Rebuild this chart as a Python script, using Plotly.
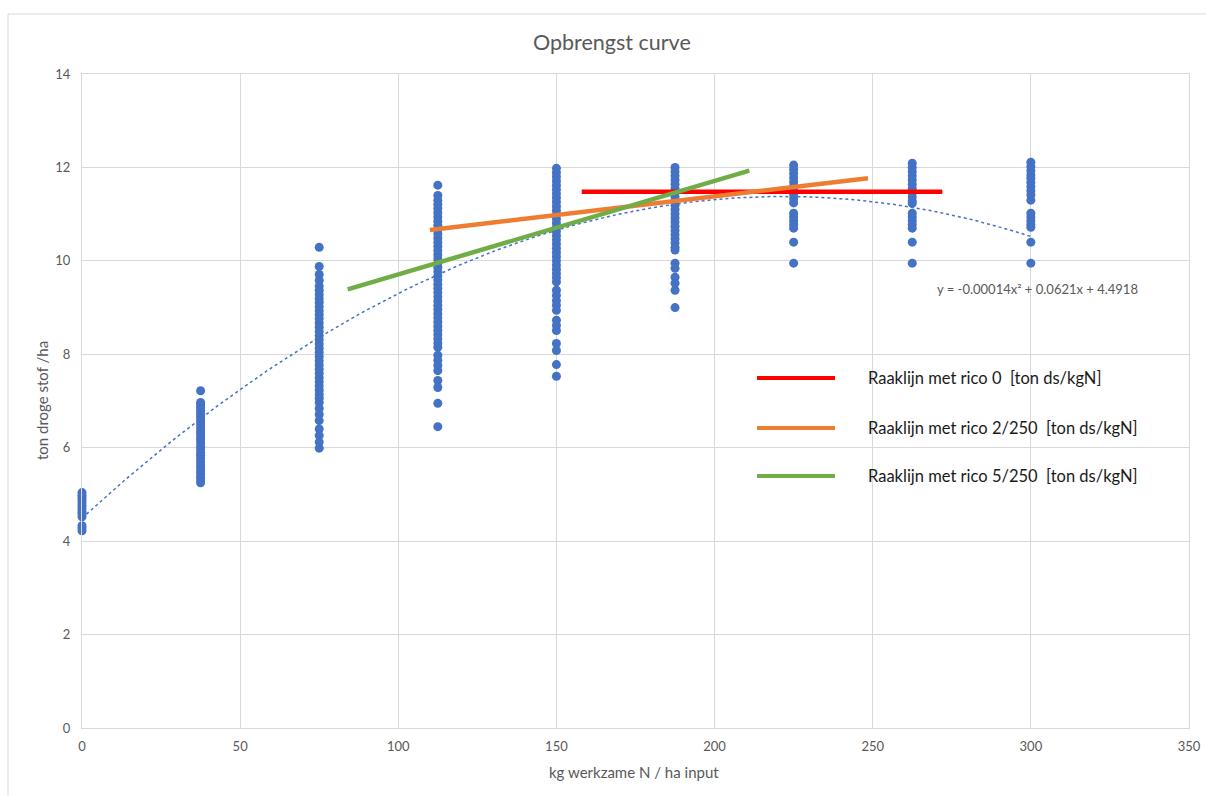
import numpy as np
import plotly.graph_objects as go

# N input levels (kg werkzame N / ha) and measured yields (ton droge stof / ha)
n_levels = [0, 37.5, 75, 112.5, 150, 187.5, 225, 262.5, 300]

yield_0 = [4.22, 4.28, 4.33, 4.52, 4.58, 4.63, 4.70, 4.76, 4.82, 4.88, 4.93, 4.98, 5.04]
yield_37 = [7.22, 6.97, 6.92, 6.86, 6.80, 6.74, 6.68, 6.62, 6.55, 6.49, 6.42, 6.36, 6.30,
            6.23, 6.17, 6.10, 6.03, 5.97, 5.90, 5.84, 5.77, 5.70, 5.63, 5.57, 5.50, 5.44,
            5.37, 5.31, 5.25]
yield_75 = [10.29, 9.88, 9.71, 9.58, 9.46, 9.37, 9.28, 9.19, 9.11, 9.02, 8.93, 8.85, 8.76,
            8.67, 8.58, 8.49, 8.40, 8.31, 8.22, 8.13, 8.04, 7.95, 7.86, 7.77, 7.68, 7.59,
            7.50, 7.41, 7.32, 7.23, 7.14, 7.06, 6.97, 6.84, 6.71, 6.58, 6.40, 6.26, 6.12, 5.99]
yield_112 = [11.62, 11.40, 11.30, 11.21, 11.12, 11.03, 10.94, 10.85, 10.76, 10.67, 10.58,
             10.49, 10.40, 10.31, 10.22, 10.13, 10.04, 9.95, 9.86, 9.77, 9.68, 9.59, 9.50,
             9.41, 9.32, 9.23, 9.14, 9.05, 8.96, 8.87, 8.78, 8.69, 8.60, 8.51, 8.42, 8.33,
             8.24, 8.15, 7.98, 7.87, 7.76, 7.65, 7.44, 7.29, 6.95, 6.45]
yield_150 = [11.98, 11.89, 11.80, 11.71, 11.62, 11.53, 11.44, 11.35, 11.26, 11.17, 11.08,
             10.99, 10.90, 10.81, 10.72, 10.63, 10.54, 10.45, 10.36, 10.27, 10.18, 10.09,
             10.00, 9.91, 9.82, 9.73, 9.64, 9.55, 9.37, 9.26, 9.15, 9.05, 8.94, 8.73, 8.62,
             8.51, 8.23, 8.08, 7.78, 7.53]
yield_187 = [12.00, 11.91, 11.82, 11.73, 11.64, 11.55, 11.46, 11.37, 11.28, 11.19, 11.10,
             11.01, 10.92, 10.83, 10.74, 10.65, 10.56, 10.47, 10.38, 10.29, 10.23, 9.95,
             9.84, 9.65, 9.52, 9.37, 9.00]
yield_225 = [12.05, 11.96, 11.87, 11.78, 11.69, 11.60, 11.51, 11.42, 11.33, 11.24, 11.02,
             10.94, 10.86, 10.78, 10.70, 10.40, 9.95]
yield_262 = [12.09, 12.00, 11.91, 11.82, 11.73, 11.64, 11.55, 11.46, 11.37, 11.28, 11.23,
             11.02, 10.94, 10.86, 10.78, 10.70, 10.40, 9.95]
yield_300 = [12.11, 12.02, 11.93, 11.84, 11.77, 11.68, 11.59, 11.50, 11.41, 11.30, 11.02,
             10.94, 10.86, 10.78, 10.72, 10.40, 9.95]

yields = [yield_0, yield_37, yield_75, yield_112, yield_150,
          yield_187, yield_225, yield_262, yield_300]

# Quadratic trendline coefficients (a*x^2 + b*x + c)
trend_coef = [-0.00014, 0.0621, 4.4918]
trend_label = "y = -0.00014x\u00b2 + 0.0621x + 4.4918"

# Tangent lines: name, colour, x range, starting y, slope
tangent_names = ["Raaklijn met rico 0  [ton ds/kgN]",
                 "Raaklijn met rico 2/250  [ton ds/kgN]",
                 "Raaklijn met rico 5/250  [ton ds/kgN]"]
tangent_colors = ["#FF0000", "#ED7D31", "#70AD47"]
tangent_x0 = [158, 110, 84]
tangent_x1 = [272, 248.5, 211]
tangent_y0 = [11.48, 10.66, 9.39]
tangent_slope = [0, 2 / 250, 5 / 250]

x_ticks = [0, 50, 100, 150, 200, 250, 300, 350]
y_ticks = [0, 2, 4, 6, 8, 10, 12, 14]

FONT = "Lato, Calibri, 'Liberation Sans', sans-serif"
GREY_TXT = "#595959"
GRID = "#D9D9D9"

fig = go.Figure()

xs, ys = [], []
for lvl, vals in zip(n_levels, yields):
    xs += [lvl] * len(vals)
    ys += vals
fig.add_trace(go.Scatter(x=xs, y=ys, mode="markers", cliponaxis=False,
                         marker=dict(color="#4472C4", size=9),
                         showlegend=False, hoverinfo="x+y"))

tx = np.linspace(0, 300, 121)
fig.add_trace(go.Scatter(x=tx, y=np.polyval(trend_coef, tx), mode="lines",
                         line=dict(color="#4472C4", width=1.5, dash="dot"),
                         showlegend=False))

for name, col, x0, x1, y0, s in zip(tangent_names, tangent_colors, tangent_x0,
                                    tangent_x1, tangent_y0, tangent_slope):
    fig.add_trace(go.Scatter(x=[x0, x1], y=[y0, y0 + s * (x1 - x0)], mode="lines",
                             line=dict(color=col, width=4.5), name=name,
                             showlegend=False))

# Plot area spans pixel x 82..1189, y 74..728
L, R, T, B = 82, 1189, 74, 728
W, H = R - L, B - T


def px(x):
    return (x - L) / W


def py(y):
    return (B - y) / H


shapes = [dict(type="rect", xref="paper", yref="paper",
               x0=px(8), x1=px(1212), y0=py(800), y1=py(14),
               line=dict(color=GRID, width=1), layer="below")]
annotations = []
legend_rows = [378, 428, 476]
for name, col, row in zip(tangent_names, tangent_colors, legend_rows):
    shapes.append(dict(type="line", xref="paper", yref="paper",
                       x0=px(757), x1=px(835), y0=py(row), y1=py(row),
                       line=dict(color=col, width=4)))
    annotations.append(dict(xref="paper", yref="paper", x=px(866), y=py(row),
                            xanchor="left", yanchor="middle", showarrow=False,
                            text=name, font=dict(family=FONT, size=16.5, color="#1a1a1a")))

annotations.append(dict(xref="paper", yref="paper", x=px(935), y=py(289),
                        xanchor="left", yanchor="middle", showarrow=False,
                        text=trend_label, font=dict(family=FONT, size=13, color=GREY_TXT)))
annotations.append(dict(xref="paper", yref="paper", x=px(612), y=py(42),
                        xanchor="center", yanchor="middle", showarrow=False,
                        text="Opbrengst curve", font=dict(family=FONT, size=21.5, color=GREY_TXT)))
annotations.append(dict(xref="paper", yref="paper", x=px(634), y=py(772),
                        xanchor="center", yanchor="middle", showarrow=False,
                        text="kg werkzame N / ha input",
                        font=dict(family=FONT, size=15, color=GREY_TXT)))
annotations.append(dict(xref="paper", yref="paper", x=px(42), y=py(401),
                        xanchor="center", yanchor="middle", showarrow=False, textangle=-90,
                        text="ton droge stof /ha",
                        font=dict(family=FONT, size=15, color=GREY_TXT)))

fig.update_layout(
    width=1206, height=796,
    margin=dict(l=L, r=1206 - R, t=T, b=796 - B, autoexpand=False),
    paper_bgcolor="white", plot_bgcolor="white",
    showlegend=False,
    shapes=shapes, annotations=annotations,
    xaxis=dict(range=[0, 350], tickvals=x_ticks, showgrid=True, gridcolor=GRID,
               gridwidth=1, zeroline=False, showline=True, linecolor=GRID, mirror=True,
               ticks="", ticklabelstandoff=6, automargin=False,
               tickfont=dict(family=FONT, size=13, color=GREY_TXT)),
    yaxis=dict(range=[0, 14], tickvals=y_ticks, showgrid=True, gridcolor=GRID,
               gridwidth=1, zeroline=False, showline=True, linecolor=GRID, mirror=True,
               ticks="", ticklabelstandoff=8, automargin=False,
               tickfont=dict(family=FONT, size=13, color=GREY_TXT)),
)

fig.write_html("out.html")
